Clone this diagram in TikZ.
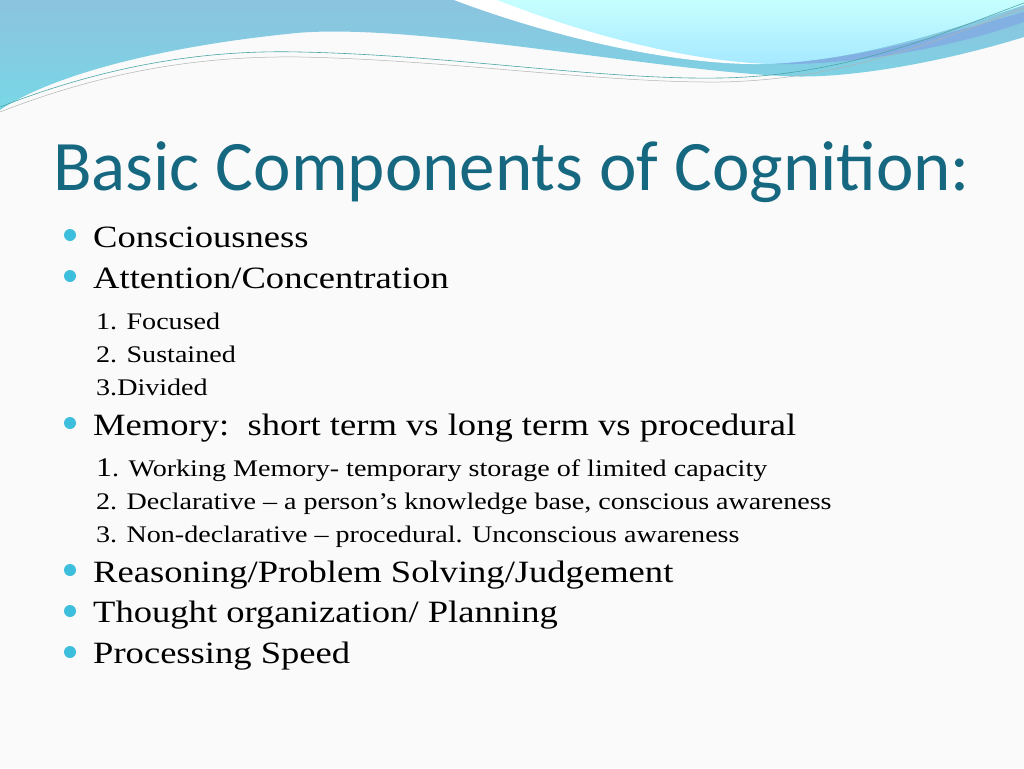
\documentclass[tikz,border=0pt]{standalone}
\usepackage{fontspec}
\setmainfont{Liberation Serif}[FakeStretch=1.18]
\newfontfamily\titlefont{Carlito}
\definecolor{band}{RGB}{140,195,222}
\definecolor{bandlow}{RGB}{120,215,230}
\definecolor{titlec}{RGB}{22,104,128}
\definecolor{dotc}{RGB}{60,190,220}
\begin{document}
\begin{tikzpicture}[x=1pt,y=-1pt,
  big/.style={anchor=base west,inner sep=0,font=\fontsize{31}{31}\selectfont},
  small/.style={anchor=base west,inner sep=0,font=\fontsize{23.8}{24}\selectfont},
  dot/.style={circle,fill=dotc,inner sep=0,minimum size=12pt}]
\useasboundingbox (0,0) rectangle (1024,768);
\fill[gray!4] (0,0) rectangle (1024,768);
% blue band
\shade[top color=band,bottom color=bandlow] (0,0) -- (1024,0) -- (1024,37)
  .. controls (950,60) and (850,80) .. (784,76)
  .. controls (650,70) and (400,20) .. (287,34)
  .. controls (180,45) and (60,70) .. (0,110) -- cycle;
% white swoosh
\fill[white] (454,0) .. controls (560,40) and (680,65) .. (760,64) .. controls (800,60) and (900,40) .. (1024,0) -- cycle;
% light area
\shade[top color=cyan!22!white,bottom color=blue!25!cyan!35] (497,0) .. controls (600,40) and (700,62) .. (771,64)
  .. controls (860,60) and (950,30) .. (1024,5) -- (1024,0) -- cycle;
\fill[cyan!60!blue!50] (771,64) .. controls (860,60) and (960,30) .. (1024,12) -- (1024,22) .. controls (960,45) and (860,66) .. (771,64) -- cycle;
% thin lines
\draw[teal!70,line width=0.6pt] (0,107) .. controls (120,60) and (220,50) .. (300,52) .. controls (450,55) and (600,80) .. (720,78) .. controls (850,76) and (950,30) .. (1024,3);
\draw[gray!60,line width=0.5pt] (0,112) .. controls (120,65) and (220,56) .. (300,57) .. controls (450,60) and (600,83) .. (720,82) .. controls (850,80) and (950,35) .. (1024,8);
% title
\node[anchor=base west,inner sep=0,font=\titlefont\fontsize{71}{71}\selectfont,text=titlec] (t) at (53,190) {Basic Components of Cognition:};
\foreach \y/\n in {235/b1,276/b2,423/b3,570/b4,611/b5,652/b6} \node[dot] (\n) at (70,\y) {};
\node[big] (c1) at (93,247) {Consciousness};
\node[big] (c2) at (93,288) {Attention/Concentration};
\node[small] (s1) at (96,329) {1. Focused};
\node[small] (s2) at (96,362) {2. Sustained};
\node[small] (s3) at (96,395) {3.Divided};
\node[big] (c3) at (93,435) {Memory:\ \ short term vs long term vs procedural};
\node[small] (s4) at (96,476) {{\fontsize{27}{27}\selectfont 1}. Working Memory- temporary storage of limited capacity};
\node[small] (s5) at (96,509) {2. Declarative -- a person’s knowledge base, conscious awareness};
\node[small] (s6) at (96,542) {3. Non-declarative -- procedural. Unconscious awareness};
\node[big] (c4) at (93,582) {Reasoning/Problem Solving/Judgement};
\node[big] (c5) at (93,622) {Thought organization/ Planning};
\node[big] (c6) at (93,663) {Processing Speed};
\end{tikzpicture}
\end{document}
